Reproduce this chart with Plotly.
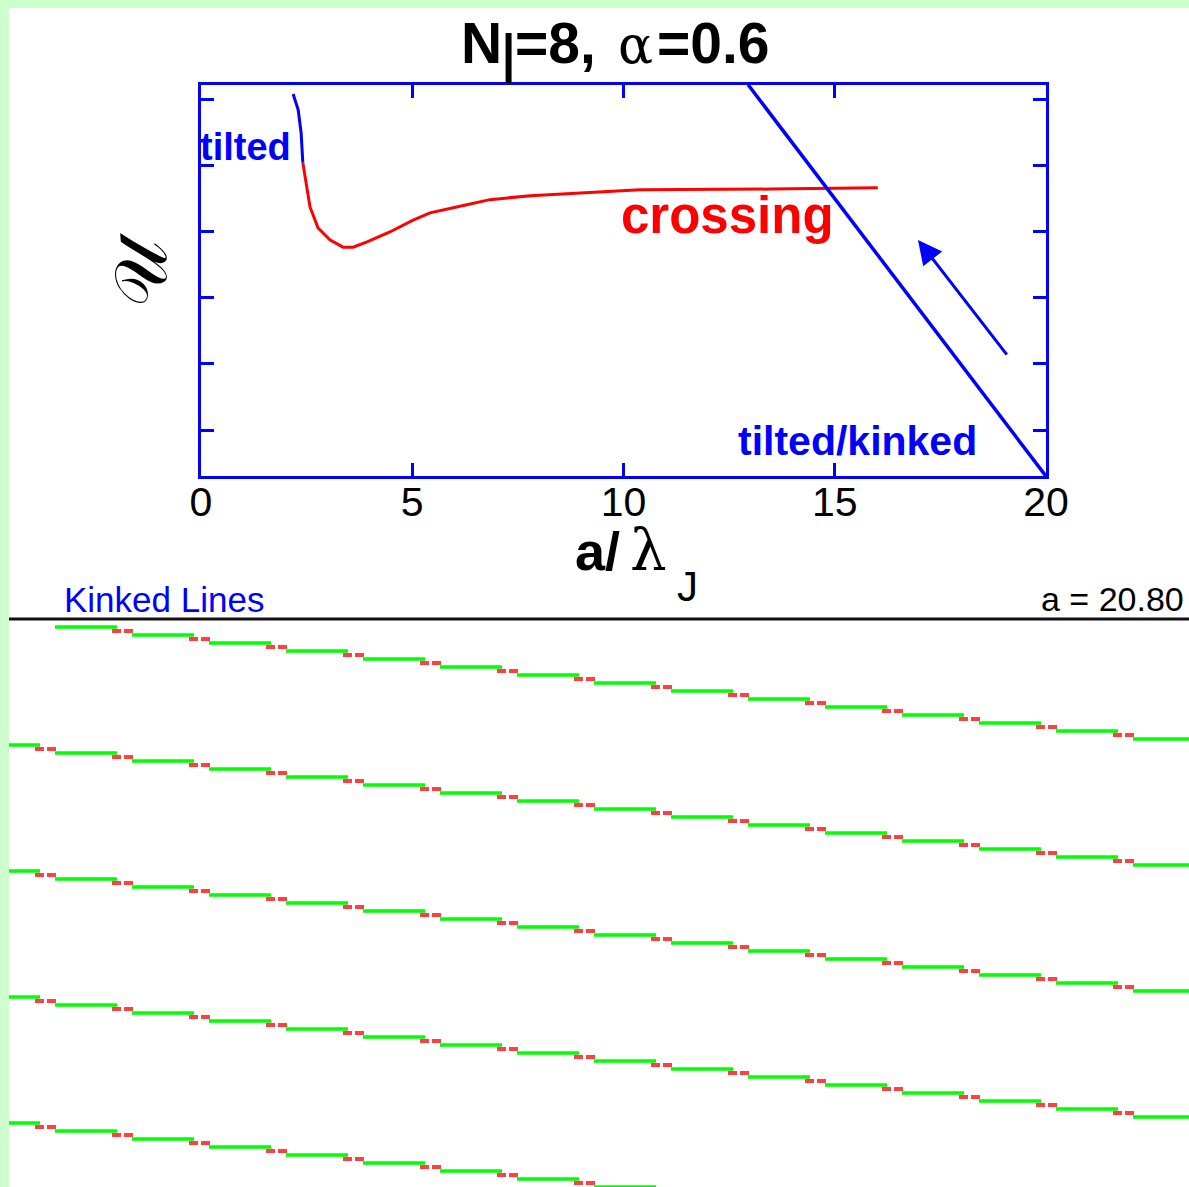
import plotly.graph_objects as go

W, H = 1189, 1187

def fx(p):  # pixel column -> paper x
    return p / W

def fy(p):  # pixel row -> paper y
    return 1 - p / H

# ---------------- top panel data (a/lambda_J vs U) ----------------
A_TILTED = [2.18, 2.30, 2.37, 2.41]
U_TILTED = [6.09, 5.85, 5.50, 5.05]

A_CROSS = [2.41, 2.49, 2.58, 2.77, 3.05, 3.36, 3.60, 3.93, 4.47, 5.02, 5.42,
           6.13, 6.84, 7.79, 8.97, 10.39, 13.47, 16.02]
U_CROSS = [5.05, 4.71, 4.38, 4.06, 3.88, 3.77, 3.77, 3.85, 4.00, 4.18, 4.29,
           4.39, 4.49, 4.55, 4.59, 4.64, 4.65, 4.67]

A_KINK = [12.95, 15.0, 17.5, 20.0]
U_KINK = [6.23, 4.51, 2.40, 0.30]

X_TICKS = [0, 5, 10, 15, 20]
X_TICK_LABELS = ["0", "5", "10", "15", "20"]
Y_TICKS = [1, 2, 3, 4, 5, 6]

ARROW_HEAD = (16.97, 3.88)
ARROW_TAIL = (19.10, 2.12)

# ---------------- bottom panel data (kinked lines) ----------------
KINK_X = [0, 1, 2, 3, 4, 5, 6, 7, 8, 9, 10, 11, 12, 13, 14]
# depth of each flat (green) piece, one entry per piece between kinks
ROW_LEVELS = [
    [None, 6, 14, 22, 30, 38, 46, 54, 62, 70, 78, 86, 94, 102, 110, 118],
    [124, 132, 140, 148, 156, 164, 172, 180, 188, 196, 204, 212, 220, 228, 236, 244],
    [250, 258, 266, 274, 282, 290, 298, 306, 314, 322, 330, 338, 346, 354, 362, 370],
    [376, 384, 392, 400, 408, 416, 424, 432, 440, 448, 456, 464, 472, 480, 488, 496],
    [502, 510, 518, 526, 534, 542, 550, 558, 566, 574, 582, 590, 598, 606, 614, 622],
]
X2_RANGE = [-0.4935, 14.831]
Y2_RANGE = [566, 0]

fig = go.Figure()

# top panel curves
fig.add_trace(go.Scatter(x=A_TILTED, y=U_TILTED, mode="lines",
                         line=dict(color="#0000FF", width=3), xaxis="x", yaxis="y"))
fig.add_trace(go.Scatter(x=A_CROSS, y=U_CROSS, mode="lines",
                         line=dict(color="#FF0000", width=3), xaxis="x", yaxis="y"))
fig.add_trace(go.Scatter(x=A_KINK, y=U_KINK, mode="lines",
                         line=dict(color="#0000FF", width=3.5), xaxis="x", yaxis="y"))

# bottom panel kinked lines
g_start, g_end = 8 / 77, 7 / 77
r_left, r_right = 12 / 77, 11 / 77
gx, gy, rx, ry = [], [], [], []
for levels in ROW_LEVELS:
    for k, lev in enumerate(levels):
        if lev is None:
            continue
        x0 = KINK_X[k - 1] + g_start if k > 0 else X2_RANGE[0] - 1
        x1 = KINK_X[k] - g_end if k < len(KINK_X) else X2_RANGE[1] + 1
        gx += [x0, x1, None]
        gy += [lev, lev, None]
    for k, kx in enumerate(KINK_X):
        a, b = levels[k], levels[k + 1]
        if a is None or b is None:
            continue
        mid = (a + b) / 2
        rx += [kx - r_left, kx + r_right, None]
        ry += [mid, mid, None]

fig.add_trace(go.Scatter(x=gx, y=gy, mode="lines", line=dict(color="#00FF00", width=3.5),
                         xaxis="x2", yaxis="y2"))
fig.add_trace(go.Scatter(x=rx, y=ry, mode="lines",
                         line=dict(color="rgba(255,30,30,0.85)", width=4, dash="9px,3px"),
                         xaxis="x2", yaxis="y2"))

axis_style = dict(showline=True, linecolor="#0000FF", linewidth=3, mirror="allticks",
                  ticks="inside", ticklen=13, tickwidth=3, tickcolor="#0000FF",
                  showgrid=False, zeroline=False, automargin=False)

fig.update_layout(
    template="none",
    width=W, height=H, autosize=False,
    margin=dict(l=0, r=0, t=0, b=0, pad=0, autoexpand=False),
    paper_bgcolor="#CCFFCC", plot_bgcolor="rgba(0,0,0,0)",
    showlegend=False, hovermode=False,
    font=dict(family="Liberation Sans, Arial, sans-serif", color="black"),
    xaxis=dict(domain=[fx(201), fx(1046)], range=[0, 20], tickvals=X_TICKS,
               ticktext=X_TICK_LABELS, tickfont=dict(size=41, color="black"),
               anchor="y", ticklabelstandoff=-12, **axis_style),
    yaxis=dict(domain=[fy(476), fy(85)], range=[0.303, 6.227], tickvals=Y_TICKS,
               showticklabels=False, anchor="x", **axis_style),
    xaxis2=dict(domain=[fx(9), 1], range=X2_RANGE, visible=False, anchor="y2",
                automargin=False),
    yaxis2=dict(domain=[0, fy(621)], range=Y2_RANGE, visible=False, anchor="x2",
                automargin=False),
)

# white page + header rule
fig.add_shape(type="rect", xref="paper", yref="paper", x0=fx(9), x1=1, y0=0, y1=fy(8),
              fillcolor="white", line=dict(width=0), layer="below")
fig.add_shape(type="line", xref="paper", yref="paper", x0=fx(9), x1=1, y0=fy(619), y1=fy(619),
              line=dict(color="#111111", width=3))

SERIF = "Liberation Serif, Times New Roman, serif"
GREEK = "DejaVu Serif, Liberation Serif, serif"


def note(text, x, y, size, color="black", xanchor="left", family=None, angle=0):
    f = dict(size=size, color=color)
    if family:
        f["family"] = family
    fig.add_annotation(text=text, x=fx(x), y=fy(y), xref="paper", yref="paper",
                       xanchor=xanchor, yanchor="middle", showarrow=False,
                       borderpad=0, borderwidth=0, font=f, textangle=angle)


# title N_l=8, alpha=0.6
note("<b>N</b>", 461, 63 - 0.3465 * 57, 57)
note("l", 501, 83 - 0.3465 * 68, 68)
note("<b>=8,</b>", 515, 63 - 0.3465 * 57, 57)
note("α", 618, 63 - 0.346 * 52, 52, family=GREEK)
note("<b>=0.6</b>", 657, 63 - 0.3465 * 57, 57)

# x-axis title a/lambda_J
note("<b>a/</b>", 575, 570 - 0.3465 * 54, 54)
note("λ", 630, 570 - 0.346 * 58, 58, family=GREEK)
note("J", 677, 601 - 0.3465 * 42, 42)

# y-axis title (script U)
note("𝒰", 141, 270, 74, family=SERIF, xanchor="center", angle=-90)

# in-plot labels
note("<b>tilted</b>", 200, 160 - 0.3465 * 38, 38, color="#0000FF")
note("<b>crossing</b>", 621, 233 - 0.3465 * 51, 51, color="#FF0000")
note("<b>tilted/kinked</b>", 738, 455 - 0.3465 * 41, 41, color="#0000FF")

# arrow
fig.add_annotation(x=ARROW_HEAD[0], y=ARROW_HEAD[1], ax=ARROW_TAIL[0], ay=ARROW_TAIL[1],
                   xref="x", yref="y", axref="x", ayref="y", text="", showarrow=True,
                   arrowhead=2, arrowsize=1.6, arrowwidth=3, arrowcolor="#0000FF", standoff=0)

# bottom header texts
note("Kinked Lines", 64, 612 - 0.3465 * 35, 35, color="#0000FF")
note("a = 20.80", 1184, 611 - 0.3465 * 34, 34, xanchor="right")

POST = (
    "document.documentElement.style.overflow='hidden';"
    "document.body.style.margin='0';"
    "document.body.style.overflow='hidden';"
)

fig.write_html("out.html", post_script=POST,
               config={"displayModeBar": False, "responsive": False, "staticPlot": True})
